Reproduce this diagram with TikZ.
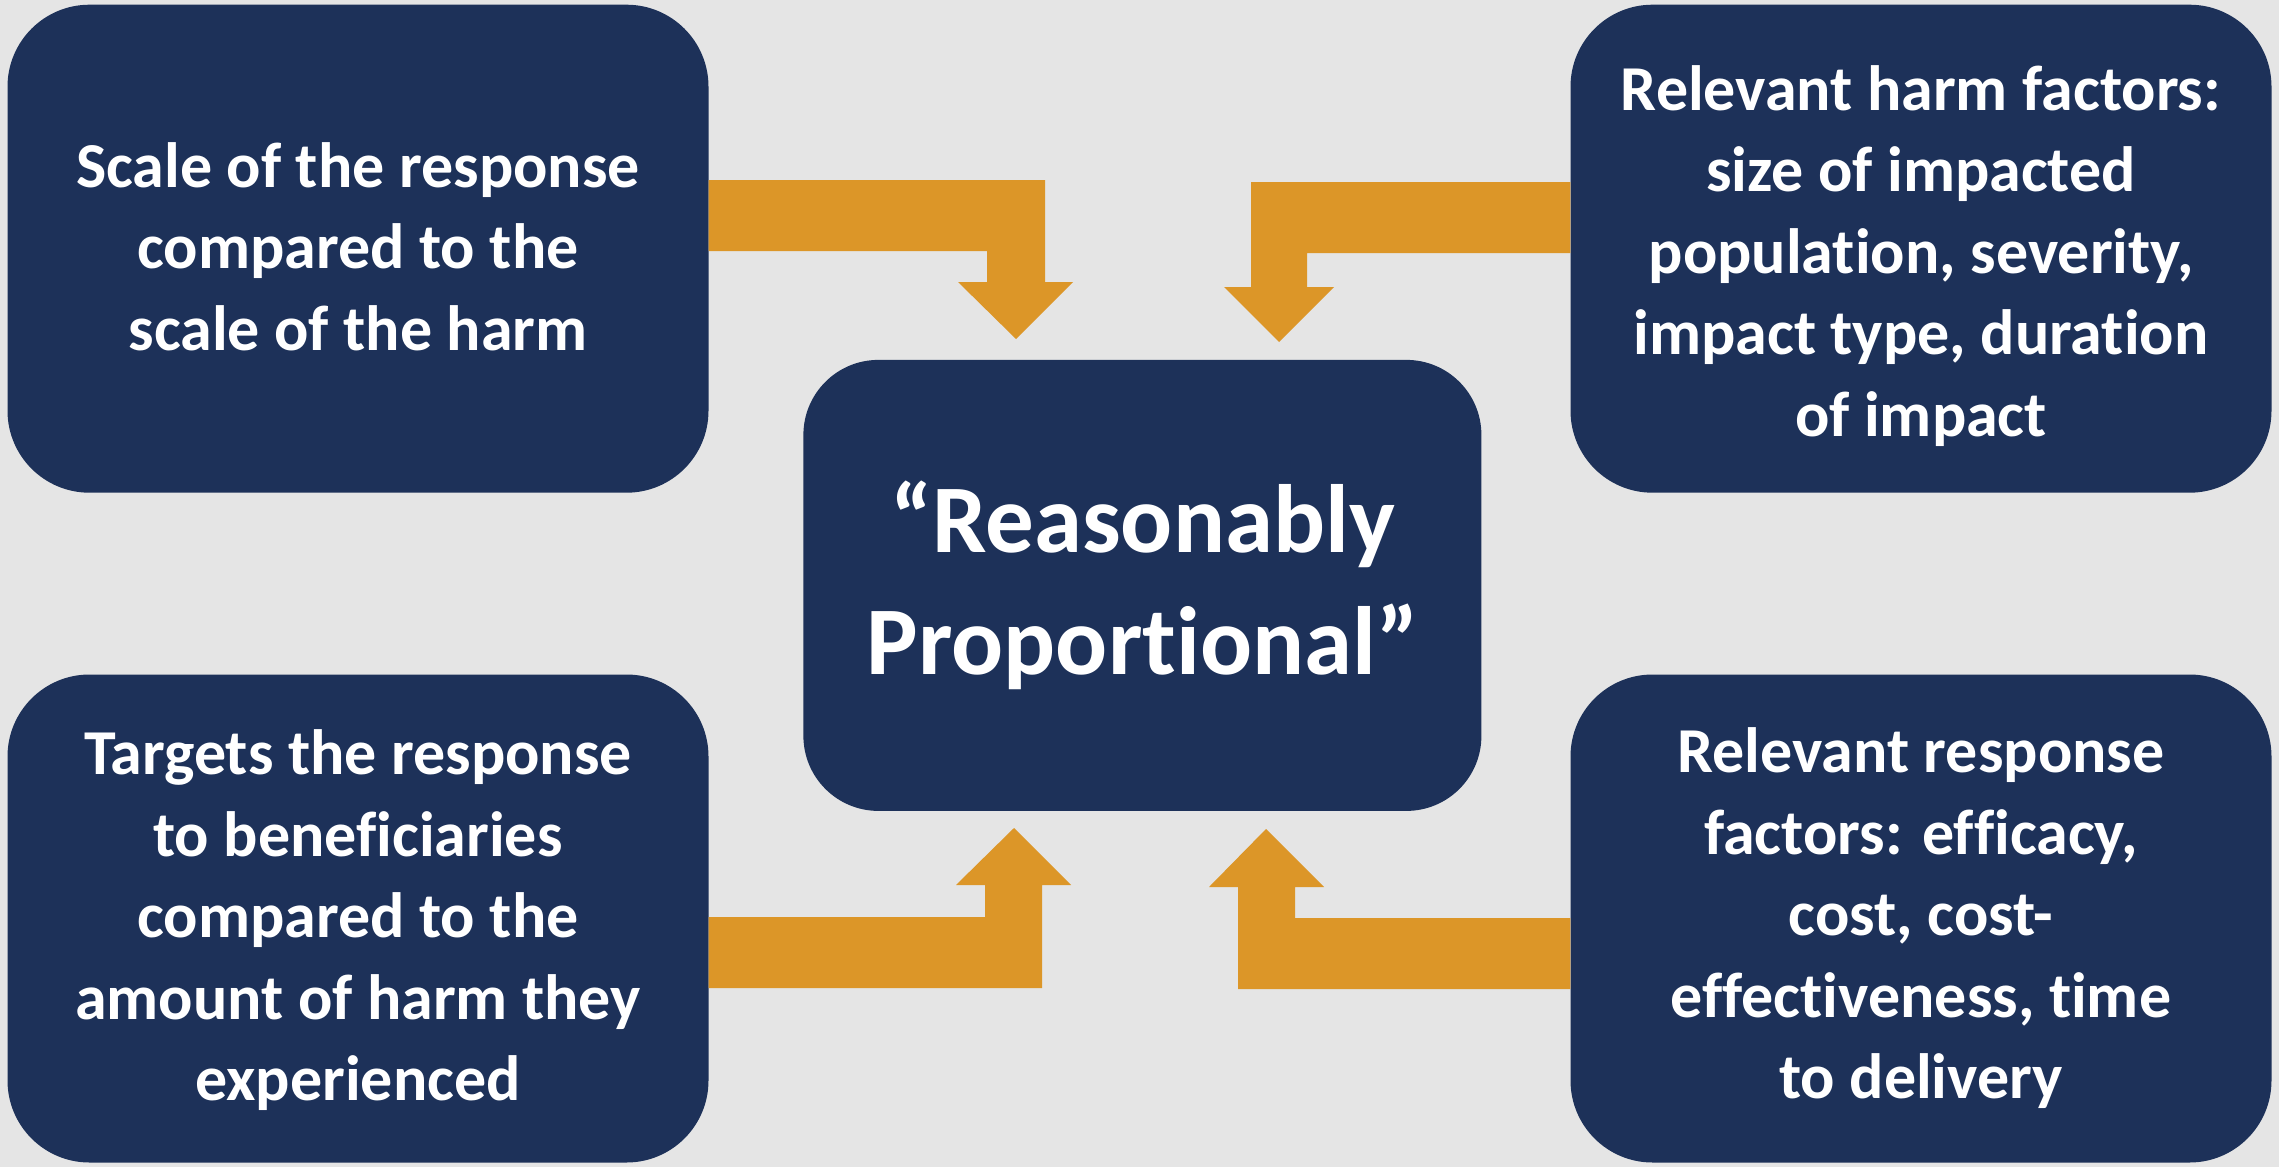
\documentclass[tikz,border=0pt]{standalone}
\usepackage{fontspec}
\setmainfont{Carlito}[Ligatures=NoCommon]
\definecolor{navy}{RGB}{29,49,89}
\definecolor{amber}{RGB}{220,150,40}
\definecolor{bgc}{RGB}{229,229,229}
\begin{document}
\begin{tikzpicture}[x=1pt,y=-1pt,
  box/.style={fill=navy, draw=none, rounded corners=82pt, minimum width=701pt, minimum height=488pt,
    inner sep=0pt},
  boxtext/.style={align=center, text=white, inner sep=0pt, font=\bfseries\fontsize{64}{81.5}\selectfont},
  bigbox/.style={fill=navy, draw=none, rounded corners=75pt, minimum width=678pt, minimum height=451pt,
    inner sep=0pt, align=center, text=white, font=\bfseries\fontsize{97}{122}\selectfont},
  barrow/.style={fill=amber, draw=none}]
\fill[bgc] (0,0) rectangle (2279,1167);
\useasboundingbox (0,0) rectangle (2279,1167);

\node[box] (tl) at (358,248.7) {};
\node[box] (tr) at (1921,248.7) {};
\node[box] (bl) at (358,918.5) {};
\node[box] (br) at (1921,918.5) {};
\node[boxtext] (tlt) at ([yshift=2pt]tl.center) {Scale of the response\\compared to the\\scale of the harm};
\node[boxtext] (trt) at ([yshift=-7pt]tr.center) {Relevant harm factors:\\size of impacted\\population, severity,\\impact type, duration\\of impact};
\node[boxtext] (blt) at ([yshift=-2pt]bl.center) {Targets the response\\to beneficiaries\\compared to the\\amount of harm they\\experienced};
\node[boxtext] (brt) at (br.center) {Relevant response\\factors: efficacy,\\cost, cost-\\effectiveness, time\\to delivery};
\node[bigbox] (c) at (1142.4,585.4) {“Reasonably\\Proportional”};

% top-left arrow
\fill[barrow] (tl.east |- 0,180) -- (1045,180) -- (1045,282) -- (1073,282) -- (1016,339) -- (958,282)
  -- (987,282) -- (987,251) -- (tl.east |- 0,251) -- cycle;
% top-right arrow
\fill[barrow] (tr.west |- 0,182) -- (1251,182) -- (1251,287) -- (1224,287) -- (1279,342) -- (1334,287)
  -- (1307,287) -- (1307,253) -- (tr.west |- 0,253) -- cycle;
% bottom-left arrow
\fill[barrow] (bl.east |- 0,988) -- (1042,988) -- (1042,885) -- (1071,885) -- (1014,828) -- (956,885)
  -- (985,885) -- (985,917) -- (bl.east |- 0,917) -- cycle;
% bottom-right arrow
\fill[barrow] (br.west |- 0,989) -- (1238,989) -- (1238,887) -- (1209,887) -- (1266,829) -- (1324,887)
  -- (1295,887) -- (1295,918) -- (br.west |- 0,918) -- cycle;
\end{tikzpicture}
\end{document}
